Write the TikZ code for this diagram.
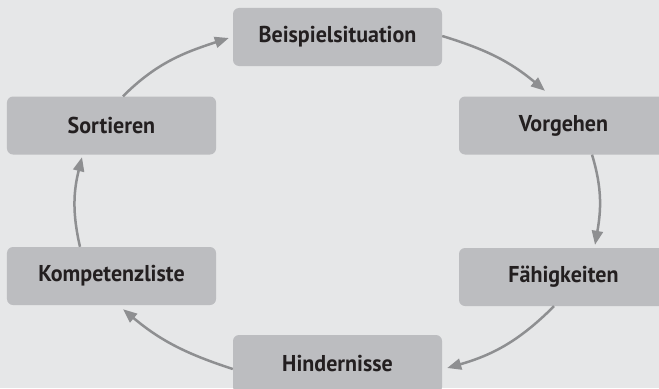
\documentclass[tikz,border=0pt]{standalone}
\usepackage{fontspec}
\setmainfont{PT Sans}[FakeStretch=0.96]
\usetikzlibrary{arrows.meta,calc}
\definecolor{bggray}{HTML}{E6E7E8}
\definecolor{boxgray}{HTML}{BCBDC0}
\definecolor{arrowgray}{HTML}{8E8F91}
\definecolor{textgray}{HTML}{231F20}

\begin{document}
\begin{tikzpicture}[x=1bp, y=1bp,
    box/.style={fill=boxgray, rounded corners=6bp, minimum width=209bp, minimum height=58bp, inner sep=0pt, text=textgray, font=\fontsize{23}{27}\selectfont\bfseries},
    link/.style={draw=arrowgray, line width=2.5bp, -{Triangle[length=14bp,width=11bp]}}]
    \clip (0,0) rectangle (659,388);
    \fill[bggray] (0,0) rectangle (659,388);
    \node[box] (beisp) at (337.5,351) {Beispielsituation};
    \node[box] (vorg) at (563.5,262.5) {Vorgehen};
    \node[box] (faeh) at (563.5,111) {Fähigkeiten};
    \node[box] (hind) at (337.5,24) {Hindernisse};
    \node[box] (komp) at (111.5,112) {Kompetenzliste};
    \node[box] (sort) at (111.5,262.5) {Sortieren};
    \draw[link] ($(beisp.east)+(0,1)$) to[out=-17,in=140] ($(vorg.north)+(-18.5,5.5)$);
    \draw[link] ($(vorg.south)+(28.5,0)$) to[out=-73,in=80] ($(faeh.north)+(31.5,3)$);
    \draw[link] ($(faeh.south)+(-9.5,0)$) to[out=-135,in=16] ($(hind.east)+(5,-4)$);
    \draw[link] ($(hind.west)+(0,-5)$) to[out=162,in=-40] ($(komp.south)+(11.5,-4)$);
    \draw[link] ($(komp.north)+(-31.5,0)$) to[out=103,in=-104] ($(sort.south)+(-29.5,-2.5)$);
    \draw[link] ($(sort.north)+(11.5,0)$) to[out=45,in=198] ($(beisp.west)+(-4,-1)$);
\end{tikzpicture}
\end{document}
